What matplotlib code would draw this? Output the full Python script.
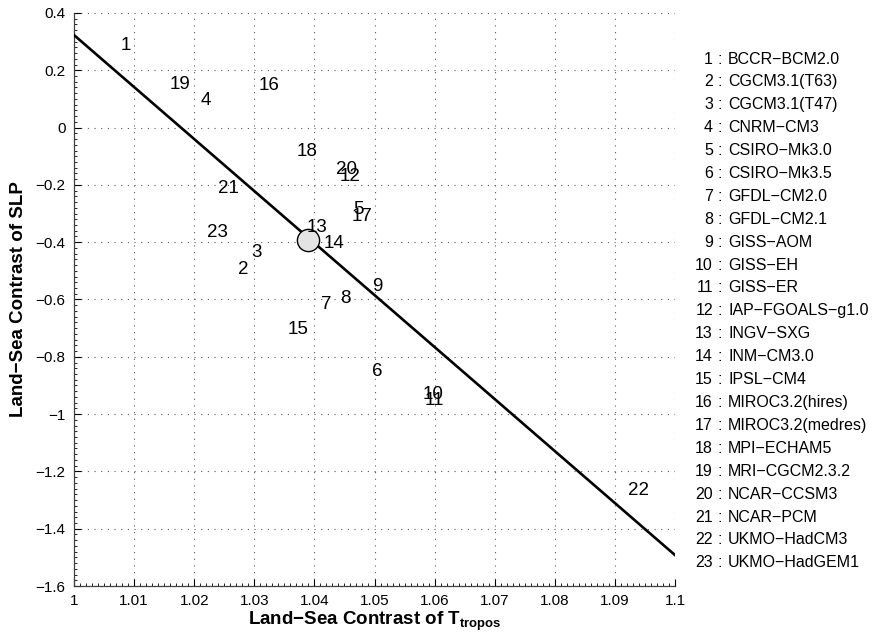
import numpy as np
import matplotlib
matplotlib.use('Agg')
import matplotlib.pyplot as plt
from matplotlib.ticker import AutoMinorLocator

plt.rcParams['font.family'] = ['Liberation Sans', 'DejaVu Sans']
plt.rcParams['mathtext.fontset'] = 'custom'
plt.rcParams['mathtext.rm'] = 'Liberation Sans'
plt.rcParams['mathtext.bf'] = 'Liberation Sans:bold'

# model names (legend) and label positions (land-sea contrast of T_tropos, SLP)
models = ['BCCR−BCM2.0', 'CGCM3.1(T63)', 'CGCM3.1(T47)', 'CNRM−CM3', 'CSIRO−Mk3.0',
          'CSIRO−Mk3.5', 'GFDL−CM2.0', 'GFDL−CM2.1', 'GISS−AOM', 'GISS−EH', 'GISS−ER',
          'IAP−FGOALS−g1.0', 'INGV−SXG', 'INM−CM3.0', 'IPSL−CM4', 'MIROC3.2(hires)',
          'MIROC3.2(medres)', 'MPI−ECHAM5', 'MRI−CGCM2.3.2', 'NCAR−CCSM3', 'NCAR−PCM',
          'UKMO−HadCM3', 'UKMO−HadGEM1']
t_tropos = [1.0087, 1.0282, 1.0303, 1.0219, 1.0473, 1.0505, 1.0419, 1.0451, 1.0504,
            1.0598, 1.0599, 1.0459, 1.0404, 1.0433, 1.0373, 1.0325, 1.0479, 1.0387,
            1.0176, 1.0453, 1.0257, 1.0939, 1.0238]
slp = [0.286, -0.495, -0.437, 0.096, -0.285, -0.850, -0.617, -0.596, -0.555,
       -0.930, -0.951, -0.169, -0.348, -0.404, -0.704, 0.148, -0.312, -0.082,
       0.151, -0.146, -0.213, -1.265, -0.366]

# ensemble mean and regression line
mean_t, mean_slp = 1.0389, -0.392
fit_intercept = 0.323   # value at T = 1
fit_slope = -18.15

xticks = [1.0, 1.01, 1.02, 1.03, 1.04, 1.05, 1.06, 1.07, 1.08, 1.09, 1.1]
xticklabels = ['1', '1.01', '1.02', '1.03', '1.04', '1.05', '1.06', '1.07',
               '1.08', '1.09', '1.1']
yticks = [-1.6, -1.4, -1.2, -1.0, -0.8, -0.6, -0.4, -0.2, 0.0, 0.2, 0.4]
yticklabels = ['−1.6', '−1.4', '−1.2', '−1', '−0.8', '−0.6', '−0.4', '−0.2',
               '0', '0.2', '0.4']

fig = plt.figure(figsize=(8.72, 6.35), dpi=100)
ax = fig.add_axes([74/872, 1 - 586/635, (675-74)/872, (586-13)/635])

xl = np.array([xticks[0], xticks[-1]])
ax.plot(xl, fit_intercept + fit_slope*(xl - 1.0), color='black', lw=1.9, zorder=3)
ax.plot(mean_t, mean_slp, 'o', ms=16, mfc='#e3e3e3', mec='black', mew=1.0, zorder=4)

for i, (x, y) in enumerate(zip(t_tropos, slp)):
    ax.text(x, y, str(i + 1), ha='center', va='center', fontsize=13.5, zorder=5)

ax.set_xlim(xticks[0], xticks[-1])
ax.set_ylim(yticks[0], yticks[-1])
ax.set_xticks(xticks, xticklabels)
ax.set_yticks(yticks, yticklabels)
ax.xaxis.set_minor_locator(AutoMinorLocator(10))
ax.yaxis.set_minor_locator(AutoMinorLocator(10))
ax.tick_params(which='major', direction='in', length=5, width=0.8, labelsize=11, pad=6)
ax.tick_params(which='minor', direction='in', length=2.5, width=0.6)
ax.grid(True, which='major', color='0.35', linestyle=(0, (1, 5)), linewidth=0.8)
ax.spines['top'].set_visible(False)
ax.spines['right'].set_visible(False)
for s in ('left', 'bottom'):
    ax.spines[s].set_linewidth(0.9)
    ax.spines[s].set_color('0.25')

ax.set_xlabel(r'Land−Sea Contrast of T$_\mathbf{tropos}$', fontsize=13.5,
              fontweight='bold', labelpad=1)
ax.set_ylabel('Land−Sea Contrast of SLP', fontsize=13.5, fontweight='bold', labelpad=6)

# legend of model numbers
for i, name in enumerate(models):
    yp = 1 - (59 + i*22.9)/635
    fig.text(713/872, yp, str(i + 1), ha='right', va='center', fontsize=11.5)
    fig.text(720/872, yp, ':', ha='center', va='center', fontsize=11.5)
    fig.text(728/872, yp, name, ha='left', va='center', fontsize=11.5)

fig.savefig('out.png', dpi=100)
